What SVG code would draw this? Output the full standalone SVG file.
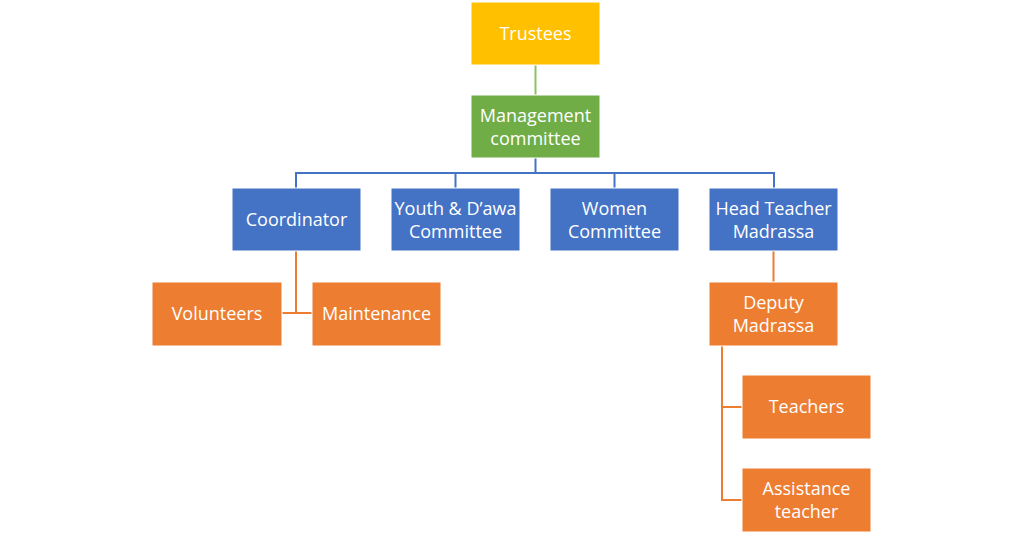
<svg xmlns="http://www.w3.org/2000/svg" width="1024" height="537" viewBox="0 0 1024 537">
<style>
.box{stroke:#ffffff;stroke-width:1}
.y{fill:#FFC000}.g{fill:#70AD47}.b{fill:#4472C4}.o{fill:#ED7D31}
.t{fill:#ffffff;font-family:"Open Sans","Liberation Sans",sans-serif;font-size:18px;text-anchor:middle;dominant-baseline:central}
.c{fill:none;stroke-width:2}
</style>
<rect width="1024" height="537" fill="#ffffff"/>
<g id="connectors">
<line class="c" stroke="#8CC168" x1="535.5" y1="65" x2="535.5" y2="95"/>
<path class="c" stroke="#4472C4" d="M535.5 158V173M296 188V173H774V188M455.5 173V188M614.5 173V188"/>
<path class="c" stroke="#ED7D31" d="M296 251V313M282 313H312"/>
<path class="c" stroke="#ED7D31" d="M773.5 251V282"/>
<path class="c" stroke="#ED7D31" d="M722 346V500H742M722 407H742"/>
</g>
<g id="trustees"><rect class="box y" x="471" y="2" width="129" height="63"/><text class="t" x="535.5" y="33">Trustees</text></g>
<g id="management"><rect class="box g" x="471" y="95" width="129" height="63"/><text class="t" x="535.5" y="115">Management</text><text class="t" x="535.5" y="138">committee</text></g>
<g id="coordinator"><rect class="box b" x="232" y="188" width="129" height="63"/><text class="t" x="296.5" y="219">Coordinator</text></g>
<g id="youth"><rect class="box b" x="391" y="188" width="129" height="63"/><text class="t" x="455.5" y="208">Youth &amp; D’awa</text><text class="t" x="455.5" y="231">Committee</text></g>
<g id="women"><rect class="box b" x="550" y="188" width="129" height="63"/><text class="t" x="614.5" y="208">Women</text><text class="t" x="614.5" y="231">Committee</text></g>
<g id="headteacher"><rect class="box b" x="709" y="188" width="129" height="63"/><text class="t" x="773.5" y="208">Head Teacher</text><text class="t" x="773.5" y="231">Madrassa</text></g>
<g id="volunteers"><rect class="box o" x="152" y="282" width="130" height="64"/><text class="t" x="217" y="313">Volunteers</text></g>
<g id="maintenance"><rect class="box o" x="312" y="282" width="129" height="64"/><text class="t" x="376.5" y="313">Maintenance</text></g>
<g id="deputy"><rect class="box o" x="709" y="282" width="129" height="64"/><text class="t" x="773.5" y="302">Deputy</text><text class="t" x="773.5" y="325">Madrassa</text></g>
<g id="teachers"><rect class="box o" x="742" y="375" width="129" height="64"/><text class="t" x="806.5" y="406">Teachers</text></g>
<g id="assistance"><rect class="box o" x="742" y="468" width="129" height="64"/><text class="t" x="806.5" y="488">Assistance</text><text class="t" x="806.5" y="511">teacher</text></g>
</svg>
